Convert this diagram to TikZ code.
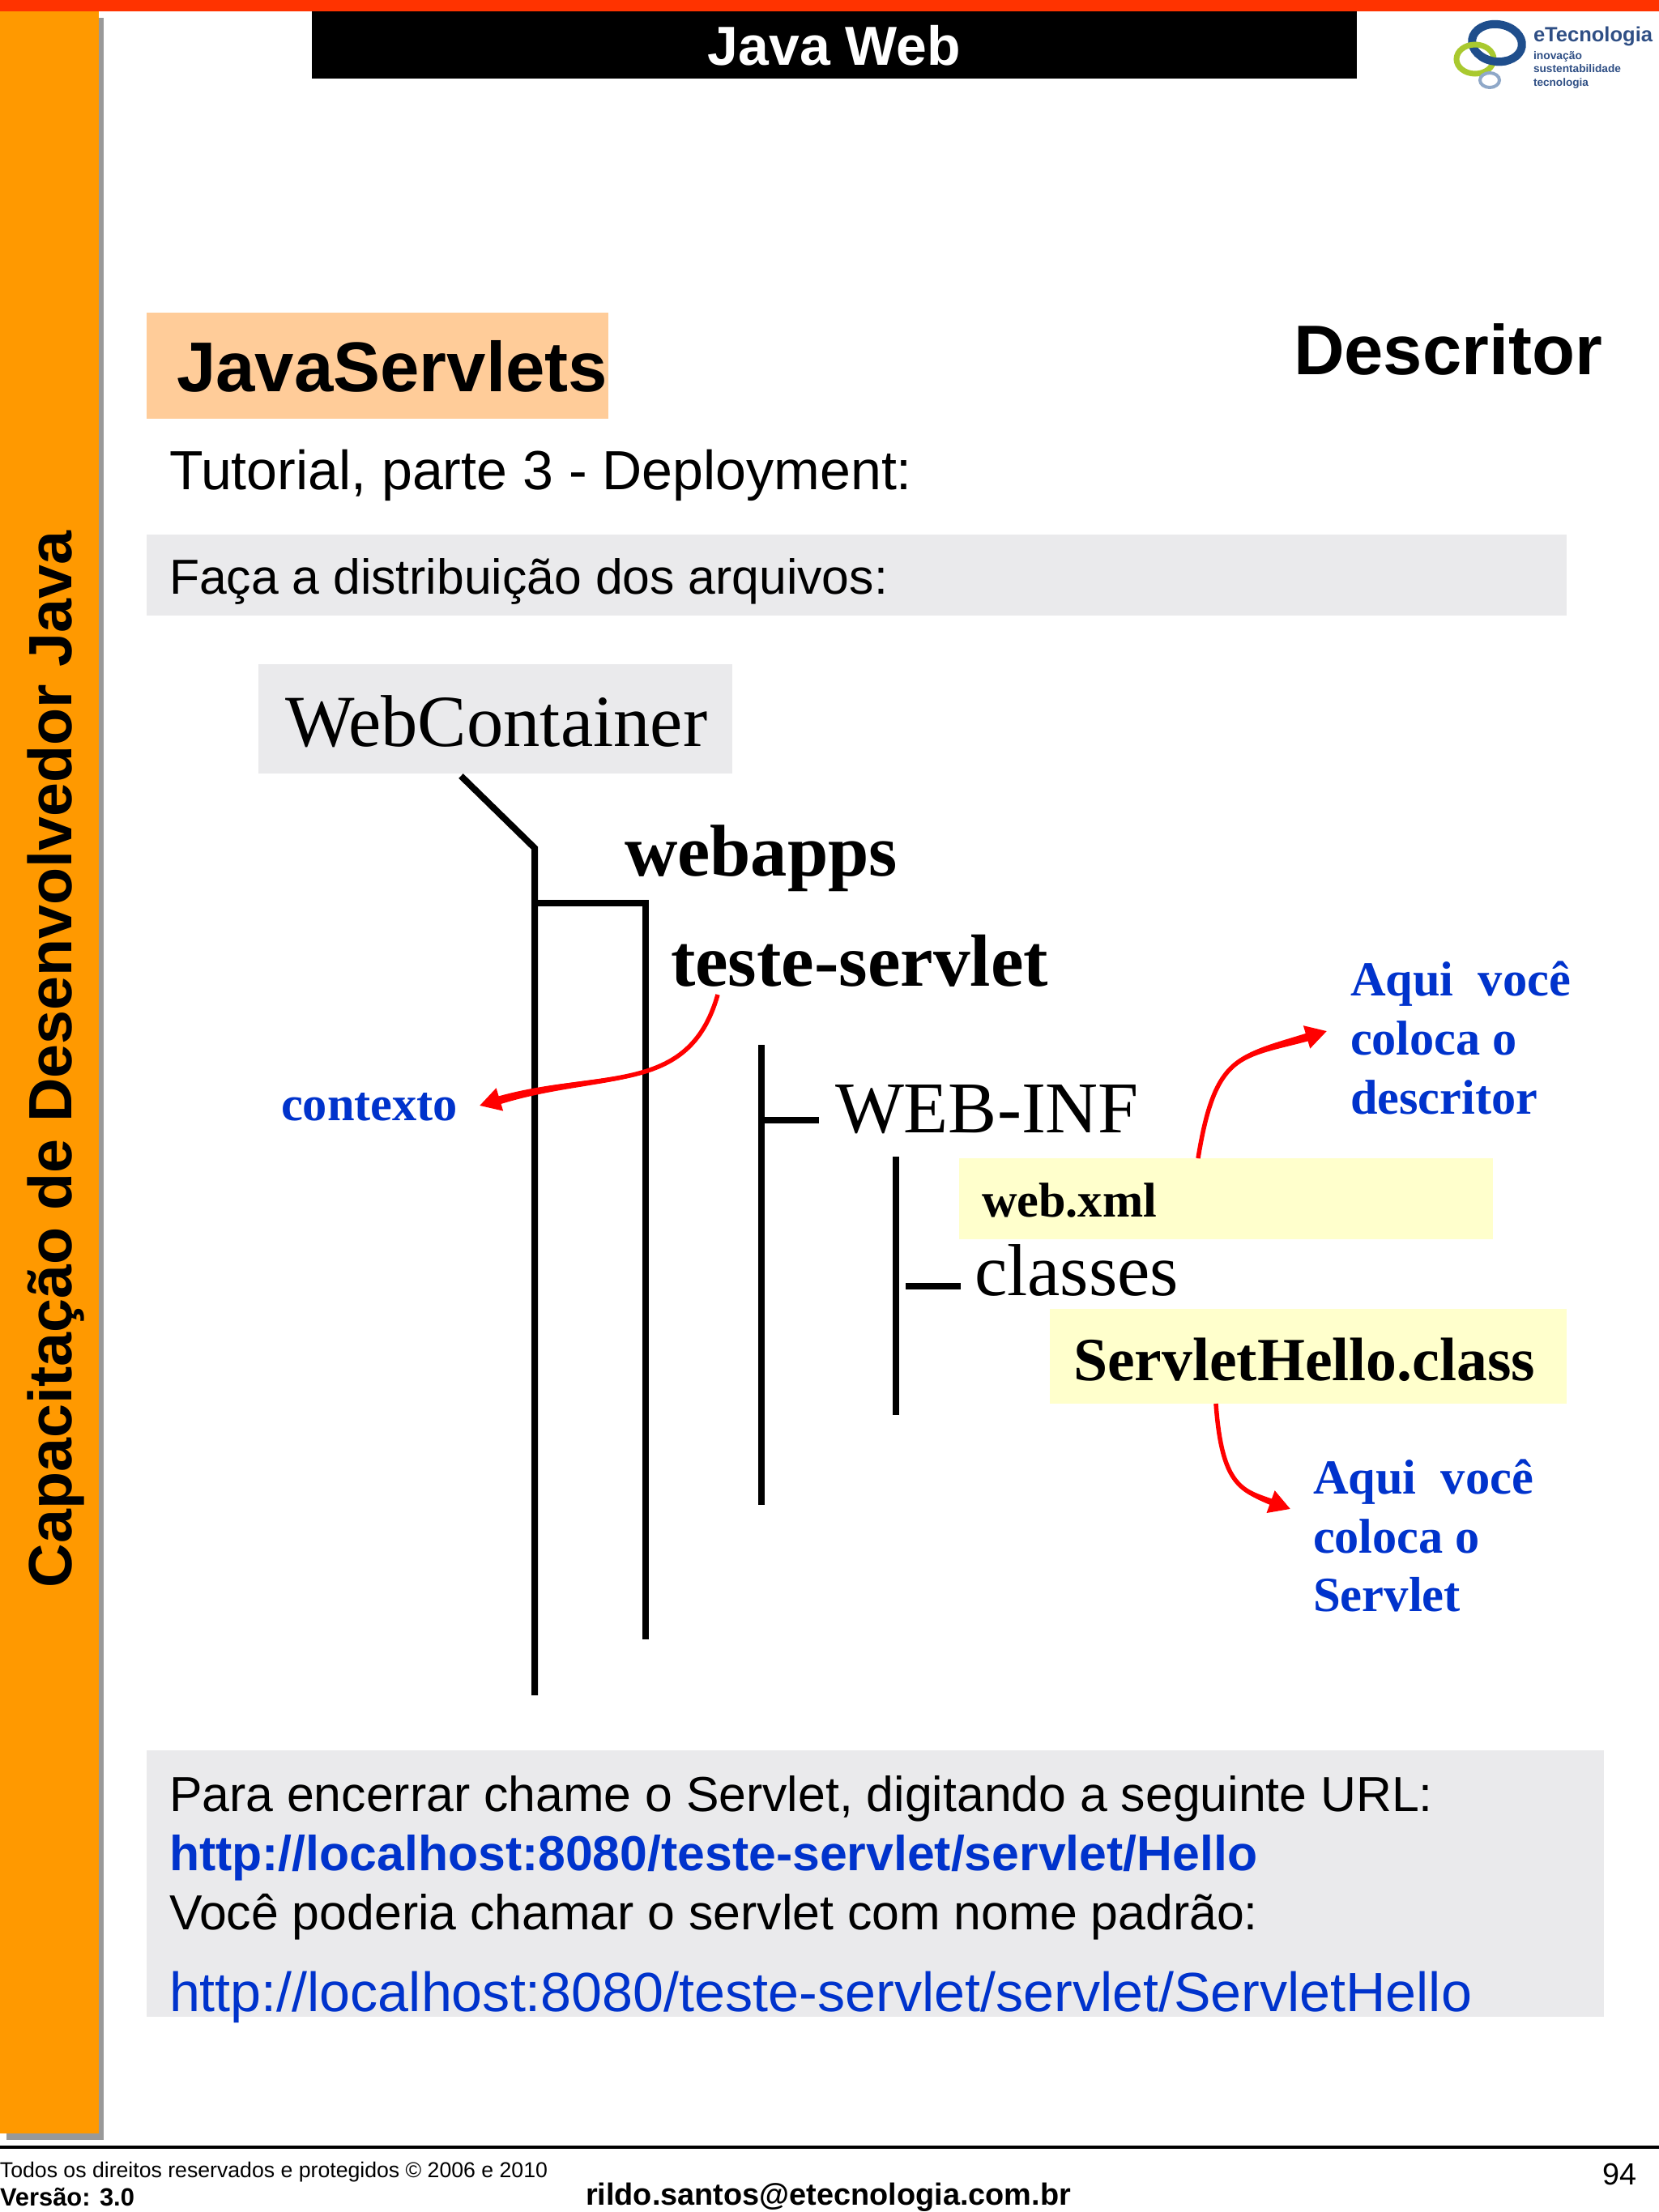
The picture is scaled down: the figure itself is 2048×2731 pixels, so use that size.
\documentclass[tikz,border=0pt]{standalone}
\usepackage{fontspec}
\usepackage{graphicx}
\setmainfont{Liberation Sans}
\newfontfamily\srf{Liberation Serif}
\usetikzlibrary{arrows.meta}
\newcommand{\tw}[3]{\resizebox{#1pt}{!}{\fontsize{40}{48}\selectfont#2\relax #3}}
\definecolor{barorange}{HTML}{FF9900}
\definecolor{topred}{HTML}{FF3300}
\definecolor{peach}{HTML}{FFCC99}
\definecolor{boxgray}{HTML}{EAEAEC}
\definecolor{boxyellow}{HTML}{FFFFCC}
\definecolor{linkblue}{HTML}{0033CC}
\definecolor{logoblue}{HTML}{1F4E8C}
\definecolor{logotext}{HTML}{2F4F85}
\definecolor{logogreen}{HTML}{A9C92F}
\definecolor{logopale}{HTML}{8FA8C8}
\tikzset{
 txt/.style={inner sep=0pt,outer sep=0pt,anchor=base west},
 area/.style={inner sep=0pt,outer sep=0pt,anchor=north west},
 tree/.style={line width=8pt,black,line cap=butt},
 treeh/.style={line width=8.5pt,black,line cap=butt},
 redarrow/.style={line width=5.5pt,red,-{Triangle[length=26pt,width=28pt]}},
}
\begin{document}
\begin{tikzpicture}[x=1pt,y=-1pt]
\useasboundingbox[fill=white] (0,0) rectangle (2048,2731);
% frame
\fill[gray!80] (8,22) rectangle (128,2642);
\fill[barorange] (0,14) rectangle (122,2634);
\fill[topred] (0,0) rectangle (2048,14);
\fill[black] (385,14) rectangle (1675,97);
\node[inner sep=0pt,anchor=base,white] (title) at (1030,80) {\tw{312}{\bfseries}{Java Web}};
\node[txt,rotate=90] (side) at (88,1960) {\tw{1304}{\bfseries}{Capacitação de Desenvolvedor Java}};
\draw[black,line width=4pt] (0,2651) -- (2048,2651);
% logo
\draw[logoblue,line width=10pt,rotate around={-8:(1848,53)}] (1848,53) ellipse [x radius=31pt,y radius=23pt];
\draw[logogreen,line width=7pt] (1821,73) ellipse [x radius=23pt,y radius=18pt];
\begin{scope}
\clip (1826,62) rectangle (1860,90);
\draw[logoblue,line width=10pt,rotate around={-8:(1848,53)}] (1848,53) ellipse [x radius=31pt,y radius=23pt];
\end{scope}
\draw[logopale,line width=4pt] (1839,99) ellipse [x radius=12pt,y radius=9pt];
\node[txt,text=logotext] (lg0) at (1893,51) {\tw{147}{\bfseries}{eTecnologia}};
\node[txt,text=logotext] (lg1) at (1893,73) {\tw{60}{\bfseries}{inovação}};
\node[txt,text=logotext] (lg2) at (1893,89) {\tw{108}{\bfseries}{sustentabilidade}};
\node[txt,text=logotext] (lg3) at (1893,106) {\tw{68}{\bfseries}{tecnologia}};
% boxes
\node[area,fill=peach,minimum width=570pt,minimum height=131pt] (jsbox) at (181,386) {};
\node[area,fill=boxgray,minimum width=1753pt,minimum height=100pt] (fazbox) at (181,660) {};
\node[area,fill=boxgray,minimum width=585pt,minimum height=135pt] (wcbox) at (319,820) {};
\node[area,fill=boxyellow,minimum width=659pt,minimum height=100pt] (webxmlbox) at (1184,1430) {};
\node[area,fill=boxyellow,minimum width=638pt,minimum height=117pt] (servbox) at (1296,1616) {};
\node[area,fill=boxgray,minimum width=1799pt,minimum height=329pt] (endbox) at (181,2161) {};
% headings
\node[txt] (js) at (218,483) {\tw{532}{\bfseries}{JavaServlets}};
\node[txt] (desc) at (1597,462) {\tw{381}{\bfseries}{Descritor}};
\node[txt] (tut) at (209,604) {\tw{917}{}{Tutorial, parte 3 - Deployment:}};
\node[txt] (faz) at (209,733) {\tw{887}{}{Faça a distribuição dos arquivos:}};
% tree labels
\node[txt] (wc) at (352,921) {\tw{521}{\srf}{WebContainer}};
\node[txt] (webapps) at (771,1081) {\tw{337}{\srf\bfseries}{webapps}};
\node[txt] (teste) at (828,1217) {\tw{466}{\srf\bfseries}{teste-servlet}};
\node[txt] (webinf) at (1031,1398) {\tw{375}{\srf}{WEB-INF}};
\node[txt] (webxml) at (1212,1502) {\tw{216}{\srf\bfseries}{web.xml}};
\node[txt] (classes) at (1203,1599) {\tw{252}{\srf}{classes}};
\node[txt] (serv) at (1325,1704) {\tw{570}{\srf\bfseries}{ServletHello.class}};
\node[txt,text=linkblue] (contexto) at (347,1383) {\tw{218}{\srf\bfseries}{contexto}};
\node[txt,text=linkblue] (aquia) at (1667,1229) {\tw{272}{\srf\bfseries}{Aqui\ \ você}};
\node[txt,text=linkblue] (colocaa) at (1667,1302) {\tw{206}{\srf\bfseries}{coloca o}};
\node[txt,text=linkblue] (descr) at (1667,1375) {\tw{231}{\srf\bfseries}{descritor}};
\node[txt,text=linkblue] (aquib) at (1621,1844) {\tw{272}{\srf\bfseries}{Aqui\ \ você}};
\node[txt,text=linkblue] (colocab) at (1621,1917) {\tw{206}{\srf\bfseries}{coloca o}};
\node[txt,text=linkblue] (servl) at (1621,1989) {\tw{182}{\srf\bfseries}{Servlet}};
% tree lines
\coordinate (elbow) at (660,1047);
\coordinate (mainend) at (660,2093);
\coordinate (branch) at (660,1115);
\coordinate (apps) at (797,1115);
\coordinate (appsend) at (797,2024);
\coordinate (ctxtop) at (940,1290);
\coordinate (ctxend) at (940,1858);
\coordinate (ctxmid) at (940,1383);
\coordinate (infstub) at (1011,1383);
\coordinate (inftop) at (1106,1428);
\coordinate (infend) at (1106,1747);
\coordinate (clsa) at (1118,1588);
\coordinate (clsb) at (1186,1588);
\draw[tree] ([xshift=250pt,yshift=-3pt]wcbox.south west) -- (elbow) -- (mainend);
\draw[treeh] (branch) -- (apps);
\draw[tree] ([yshift=4pt]apps) -- (appsend);
\draw[tree] (ctxtop) -- (ctxend);
\draw[treeh] (ctxmid) -- (infstub);
\draw[tree] (inftop) -- (infend);
\draw[treeh] (clsa) -- (clsb);
% red arrows: thickening bodies
\fill[red] (887,1228) .. controls (851.5,1355.5) and (741,1323) .. (612,1365) -- (610,1355) .. controls (739,1317) and (848.5,1354.5) .. (885,1228) -- cycle;
\fill[red] (1480,1430) .. controls (1501.5,1300.5) and (1531,1308) .. (1620,1284) -- (1618,1274) .. controls (1529,1302) and (1498.5,1299.5) .. (1478,1430) -- cycle;
\fill[red] (1502,1733) .. controls (1509.5,1830.3) and (1529,1842.5) .. (1573,1860) -- (1575,1852) .. controls (1531,1837.5) and (1506.5,1829.7) .. (1500,1733) -- cycle;
% red arrows
\draw[redarrow] ([xshift=58pt,yshift=-11pt]teste.base west) .. controls (850,1355) and (740,1320) .. ([xshift=27pt,yshift=18pt]contexto.base east);
\draw[redarrow] ([xshift=295pt]webxmlbox.north west) .. controls (1500,1300) and (1530,1305) .. ([xshift=-29pt,yshift=29pt]colocaa.base west);
\draw[redarrow] ([xshift=205pt]servbox.south west) .. controls (1508,1830) and (1530,1840) .. ([xshift=-28pt,yshift=-19pt]aquib.base west);
% closing text
\node[txt] (l1) at (209,2236) {\tw{1560}{}{Para encerrar chame o Servlet, digitando a seguinte URL:}};
\node[txt,text=linkblue] (l2) at (209,2309) {\tw{1343}{\bfseries}{http://localhost:8080/teste-servlet/servlet/Hello}};
\node[txt] (l3) at (209,2382) {\tw{1344}{}{Você poderia chamar o servlet com nome padrão:}};
\node[txt,text=linkblue] (l4) at (209,2483) {\tw{1608}{}{http://localhost:8080/teste-servlet/servlet/ServletHello}};
% footer
\node[txt] (f1) at (0,2688) {\tw{676}{}{Todos os direitos reservados e protegidos © 2006 e 2010}};
\node[txt] (f2) at (0,2723) {\tw{166}{\bfseries}{Versão: 3.0}};
\node[txt] (f3) at (723,2722) {\tw{599}{\bfseries}{rildo.santos@etecnologia.com.br}};
\node[txt] (f4) at (1978,2697) {\tw{42}{}{94}};
\end{tikzpicture}
\end{document}
